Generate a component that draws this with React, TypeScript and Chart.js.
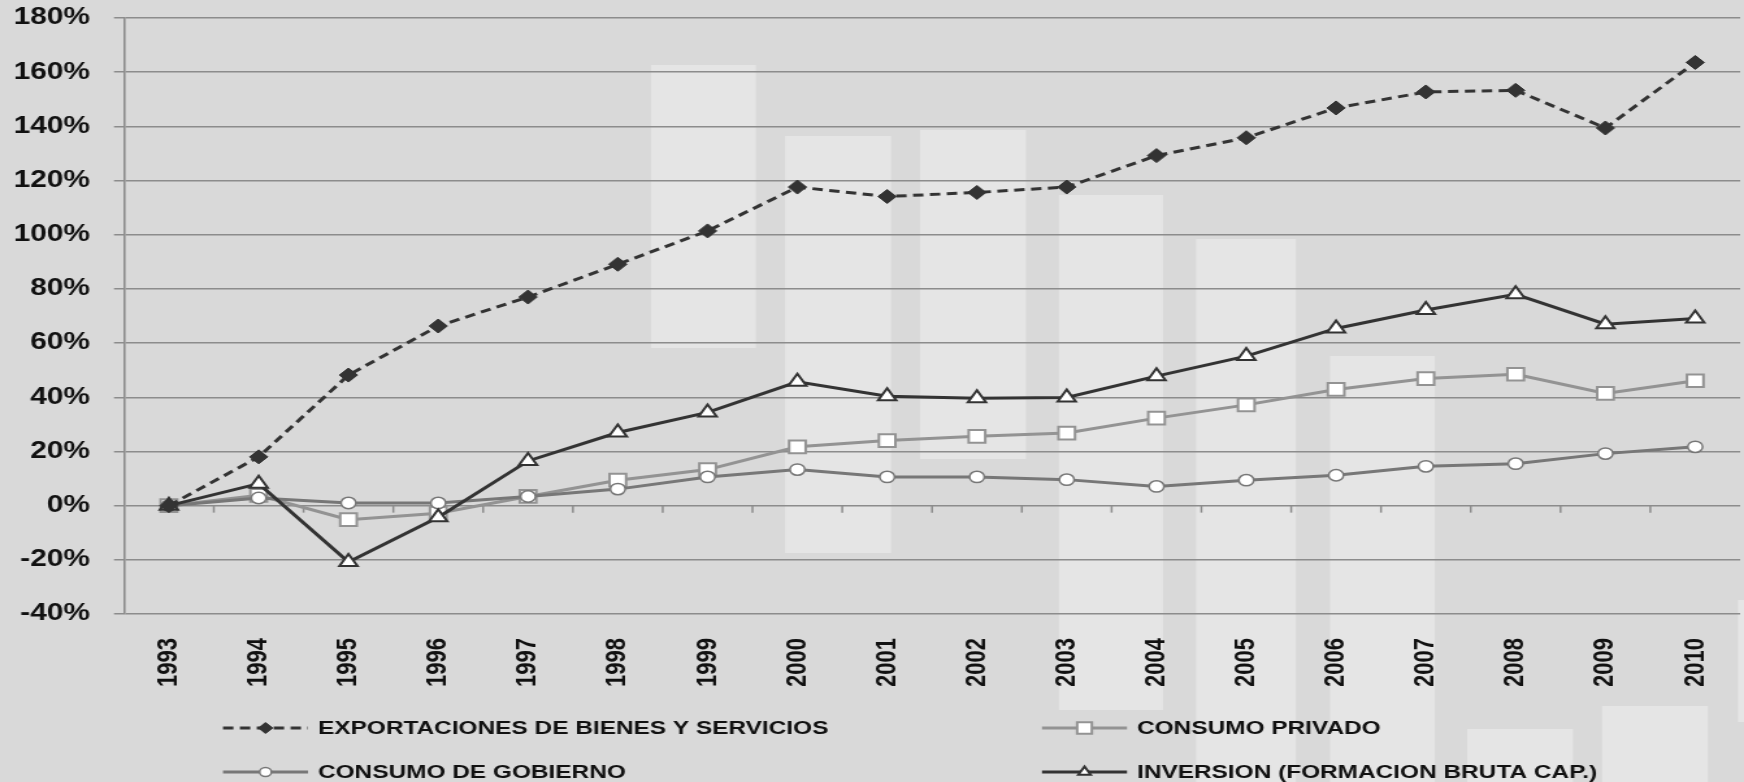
import React, { useEffect, useRef } from 'react';
import { Chart, registerables } from 'chart.js';

Chart.register(...registerables);

const years = ['1993', '1994', '1995', '1996', '1997', '1998', '1999', '2000', '2001', '2002', '2003', '2004', '2005', '2006', '2007', '2008', '2009', '2010'];
const exportaciones = [0, 18, 48.2, 66.3, 77, 89.1, 101.4, 117.6, 114.1, 115.6, 117.6, 129.2, 135.8, 146.8, 152.7, 153.3, 139.4, 163.6];
const consumoPrivado = [0, 3.8, -5.2, -2.8, 3.4, 9.4, 13.3, 21.7, 24, 25.6, 26.8, 32.3, 37.2, 42.9, 46.9, 48.5, 41.4, 46.1];
const consumoGobierno = [0, 2.8, 1, 1, 3.4, 6.1, 10.6, 13.3, 10.6, 10.6, 9.6, 7.1, 9.4, 11.2, 14.5, 15.5, 19.2, 21.7];
const inversion = [0, 8.1, -20.8, -4.3, 16.5, 27, 34.4, 45.7, 40.4, 39.6, 39.9, 47.8, 55.2, 65.4, 72.2, 78, 67, 69.1];
const yMin = -40;
const yMax = 180;
const yStep = 20;

// the original picture is stretched horizontally; draw narrower and stretch with CSS
const PAGE_W = 1744;
const PAGE_H = 782;
const SX = 1.3;
const CANVAS_W = Math.round(PAGE_W / SX);
const SXR = PAGE_W / CANVAS_W;

// decorative lighter backdrop panels of the original picture (page pixels, layout only)
const backdropPanels = [
  [651, 65, 105, 283],
  [785, 136, 106, 417],
  [920, 130, 106, 329],
  [1059, 195, 104, 515],
  [1196, 239, 100, 543],
  [1330, 356, 105, 426],
  [1467, 729, 106, 53],
  [1602, 706, 106, 76],
  [1738, 600, 6, 122],
];

const BG = '#d9d9d9';
const GRID = '#8c8c8c';

function drawMarker(ctx: CanvasRenderingContext2D, style: string, x: number, y: number, r: number, fill: string, stroke: string, lw: number) {
  ctx.save();
  ctx.beginPath();
  if (style === 'rectRot') {
    ctx.moveTo(x, y - r);
    ctx.lineTo(x + r, y);
    ctx.lineTo(x, y + r);
    ctx.lineTo(x - r, y);
    ctx.closePath();
  } else if (style === 'rect') {
    const s = r * Math.SQRT1_2;
    ctx.rect(x - s, y - s, 2 * s, 2 * s);
  } else if (style === 'triangle') {
    ctx.moveTo(x, y - r);
    ctx.lineTo(x + r * Math.sin(Math.PI / 3), y + r * 0.5);
    ctx.lineTo(x - r * Math.sin(Math.PI / 3), y + r * 0.5);
    ctx.closePath();
  } else {
    ctx.arc(x, y, r, 0, Math.PI * 2);
  }
  ctx.fillStyle = fill;
  ctx.fill();
  ctx.lineWidth = lw;
  ctx.strokeStyle = stroke;
  ctx.stroke();
  ctx.restore();
}

const legendMarkerRadius: Record<string, number> = { rectRot: 5.5, rect: 8, circle: 4.5, triangle: 5.5 };

const decorPlugin = {
  id: 'decor',
  beforeDraw(chart: any) {
    const ctx = chart.ctx as CanvasRenderingContext2D;
    ctx.save();
    ctx.fillStyle = BG;
    ctx.fillRect(0, 0, chart.width, chart.height);
    ctx.fillStyle = '#e5e5e5';
    backdropPanels.forEach(([x, y, w, h]) => ctx.fillRect(x / SXR, y, w / SXR, h));
    ctx.restore();
  },
  beforeDatasetsDraw(chart: any) {
    const ctx = chart.ctx as CanvasRenderingContext2D;
    const xs = chart.scales.x;
    const ys = chart.scales.y;
    const y0 = ys.getPixelForValue(0);
    ctx.save();
    ctx.strokeStyle = GRID;
    ctx.lineWidth = 1.5;
    for (let i = 1; i < years.length; i++) {
      const bx = (xs.getPixelForValue(i - 1) + xs.getPixelForValue(i)) / 2;
      ctx.beginPath();
      ctx.moveTo(bx, y0);
      ctx.lineTo(bx, y0 + 7);
      ctx.stroke();
    }
    ctx.restore();
  },
  afterDraw(chart: any) {
    const ctx = chart.ctx as CanvasRenderingContext2D;
    const H = chart.height;
    const c1 = 223 / SXR;
    const c2 = 1042 / SXR;
    const lineLen = 85 / SXR;
    const items = [
      { ds: 0, x: c1, y: H - 54 },
      { ds: 3, x: c2, y: H - 54 },
      { ds: 2, x: c1, y: H - 10 },
      { ds: 1, x: c2, y: H - 10 },
    ];
    items.forEach((it) => {
      const d = chart.data.datasets[it.ds];
      ctx.save();
      ctx.strokeStyle = d.borderColor;
      ctx.lineWidth = d.borderWidth;
      ctx.setLineDash(d.borderDash || []);
      ctx.beginPath();
      ctx.moveTo(it.x, it.y);
      ctx.lineTo(it.x + lineLen, it.y);
      ctx.stroke();
      ctx.setLineDash([]);
      ctx.restore();
      drawMarker(ctx, d.pointStyle, it.x + lineLen / 2, it.y, legendMarkerRadius[d.pointStyle], d.pointBackgroundColor, d.pointBorderColor, d.pointBorderWidth);
      ctx.save();
      ctx.fillStyle = '#111';
      ctx.font = 'bold 18.8px "Liberation Sans", Arial, sans-serif';
      ctx.textBaseline = 'middle';
      ctx.textAlign = 'left';
      ctx.fillText(d.label, it.x + lineLen + 10 / SXR, it.y + 1);
      ctx.restore();
    });
  },
};

export default function App() {
  const ref = useRef<HTMLCanvasElement>(null);

  useEffect(() => {
    document.body.style.margin = '0';
    document.body.style.background = BG;
    const canvas = ref.current;
    if (!canvas) return;
    const chart = new Chart(canvas, {
      type: 'line',
      data: {
        labels: years,
        datasets: [
          {
            label: 'EXPORTACIONES DE BIENES Y SERVICIOS',
            data: exportaciones,
            borderColor: '#333333',
            borderWidth: 3,
            borderDash: [8, 5],
            pointStyle: 'rectRot',
            pointRadius: 7,
            pointBackgroundColor: '#333333',
            pointBorderColor: '#333333',
            pointBorderWidth: 1,
            tension: 0,
            clip: false,
          },
          {
            label: 'INVERSION (FORMACION BRUTA CAP.)',
            data: inversion,
            borderColor: '#333333',
            borderWidth: 3,
            pointStyle: 'triangle',
            pointRadius: 8,
            pointBackgroundColor: '#ffffff',
            pointBorderColor: '#333333',
            pointBorderWidth: 2,
            tension: 0,
            clip: false,
          },
          {
            label: 'CONSUMO DE GOBIERNO',
            data: consumoGobierno,
            borderColor: '#777777',
            borderWidth: 3,
            pointStyle: 'circle',
            pointRadius: 5.7,
            pointBackgroundColor: '#ffffff',
            pointBorderColor: '#777777',
            pointBorderWidth: 1.5,
            tension: 0,
            clip: false,
          },
          {
            label: 'CONSUMO PRIVADO',
            data: consumoPrivado,
            borderColor: '#939393',
            borderWidth: 3,
            pointStyle: 'rect',
            pointRadius: 9,
            pointBackgroundColor: '#ffffff',
            pointBorderColor: '#939393',
            pointBorderWidth: 2,
            tension: 0,
            clip: false,
          },
        ],
      },
      options: {
        responsive: false,
        animation: false,
        events: [],
        devicePixelRatio: 1,
        layout: { autoPadding: false, padding: { top: 18, right: 3, bottom: 96, left: 0 } },
        plugins: {
          legend: { display: false },
          tooltip: { enabled: false },
        },
        scales: {
          x: {
            offset: true,
            grid: { display: false, drawTicks: false },
            border: { display: false },
            ticks: {
              maxRotation: 90,
              minRotation: 90,
              padding: 24,
              color: '#111',
              font: { family: '"Liberation Sans", Arial, sans-serif', size: 22, weight: 'bold' },
            },
            afterFit: (scale: any) => {
              scale.height = 72;
              scale.paddingTop = 0;
              scale.paddingBottom = 0;
              scale.paddingLeft = 0;
              scale.paddingRight = 0;
            },
          },
          y: {
            min: yMin,
            max: yMax,
            ticks: {
              stepSize: yStep,
              padding: 18.5,
              color: '#111',
              font: { family: '"Liberation Sans", Arial, sans-serif', size: 23, weight: 'bold' },
              callback: (v: any) => `${v}%`,
            },
            grid: { color: GRID, lineWidth: 1.5, tickLength: 7.7, tickColor: GRID },
            border: { display: true, color: GRID, width: 1.6 },
            afterFit: (scale: any) => {
              scale.width = 124 / SXR;
              scale.paddingTop = 0;
              scale.paddingBottom = 0;
            },
          },
        },
      },
      plugins: [decorPlugin],
    });
    return () => chart.destroy();
  }, []);

  return (
    <canvas
      ref={ref}
      width={CANVAS_W}
      height={PAGE_H}
      style={{ display: 'block', width: `${PAGE_W}px`, height: `${PAGE_H}px` }}
    />
  );
}
